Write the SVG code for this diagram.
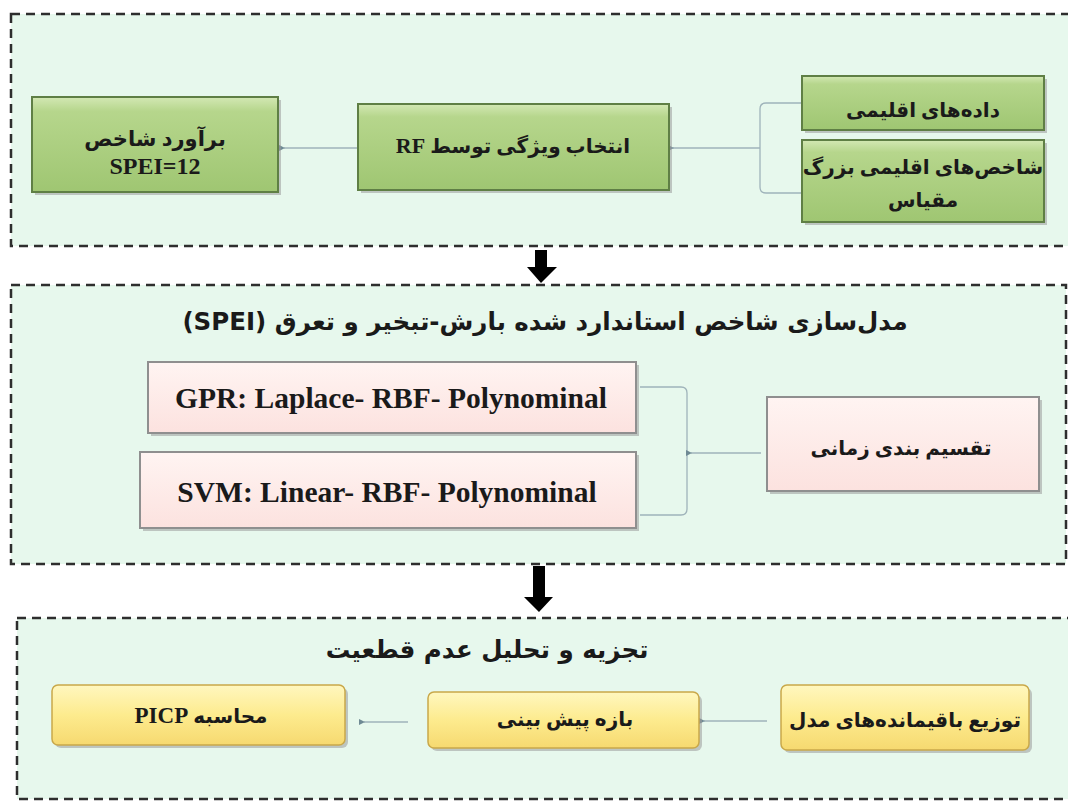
<svg xmlns="http://www.w3.org/2000/svg" width="1068" height="803" viewBox="0 0 1068 803">
<defs>
<linearGradient id="gGreen" x1="0" y1="0" x2="0" y2="1">
<stop offset="0" stop-color="#d3e8b4"/>
<stop offset="0.15" stop-color="#b6d68c"/>
<stop offset="1" stop-color="#9fc672"/>
</linearGradient>
<linearGradient id="gPink" x1="0" y1="0" x2="0" y2="1">
<stop offset="0" stop-color="#fff4f2"/>
<stop offset="1" stop-color="#fce2df"/>
</linearGradient>
<linearGradient id="gYellow" x1="0" y1="0" x2="0" y2="1">
<stop offset="0" stop-color="#fff7bf"/>
<stop offset="0.5" stop-color="#fdeb8e"/>
<stop offset="1" stop-color="#f6d970"/>
</linearGradient>
<marker id="dot" viewBox="0 0 6 6" refX="1" refY="3" markerWidth="5" markerHeight="5" orient="auto">
<path d="M6,0 L0,3 L6,6 z" fill="#6f8a94"/>
</marker>
<style>
.panel{fill:#e7f8ed;stroke:#2e2e2e;stroke-width:2.5;stroke-dasharray:9 6}
.green{fill:url(#gGreen);stroke:#5f7f45;stroke-width:2}
.pink{fill:url(#gPink);stroke:#8f8f8f;stroke-width:2}
.yellow{fill:url(#gYellow);stroke:#c9a84a;stroke-width:1.5}
.shadow{fill:#9a9a9a;opacity:0.55}
.conn{fill:none;stroke:#9fb3ba;stroke-width:1.3}
.fa{font-family:"Liberation Serif","DejaVu Sans",serif;font-weight:bold;fill:#1a1a1a;text-anchor:middle}
.lat{font-family:"Liberation Serif",serif;font-weight:bold;fill:#1a1a1a;text-anchor:middle}
.title{font-family:"DejaVu Sans",sans-serif;font-weight:bold;fill:#1a1a1a;text-anchor:middle}
.arrow{fill:#000}
</style>
</defs>
<rect width="1068" height="803" fill="#ffffff"/>

<g id="panel-top">
<rect class="panel" x="11" y="14" width="1070" height="232"/>
</g>
<g id="panel-middle">
<rect class="panel" x="11" y="285" width="1055" height="279"/>
</g>
<g id="panel-bottom">
<rect class="panel" x="17" y="618" width="1070" height="181"/>
</g>

<g id="connectors">
<line class="conn" x1="357" y1="148" x2="284" y2="148" marker-end="url(#dot)"/>
<path class="conn" d="M802,103 H766 Q760,103 760,109 V187 Q760,193 766,193 H802"/>
<line class="conn" x1="760" y1="148" x2="673" y2="148" marker-end="url(#dot)"/>
<path class="conn" d="M640,387 H681 Q687,387 687,393 V509 Q687,515 681,515 H640"/>
<line class="conn" x1="761" y1="453" x2="691" y2="453" marker-end="url(#dot)"/>
<line class="conn" x1="767" y1="721" x2="704" y2="721" marker-end="url(#dot)"/>
<line class="conn" x1="408" y1="722" x2="364" y2="722" marker-end="url(#dot)"/>
<path class="arrow" d="M535,250 H547 V267 H557 L541,283 L527,267 H535 Z"/>
<path class="arrow" d="M533,566 H545 V597 H553 L539,612 L524,597 H533 Z"/>
</g>

<g id="node-spei12">
<rect class="shadow" x="35" y="100" width="246" height="95"/>
<rect class="green" x="32" y="97" width="246" height="95"/>
<text class="fa" x="155" y="146" font-size="21" direction="rtl">برآورد شاخص</text>
<text class="lat" x="155" y="174" font-size="24">SPEI=12</text>
</g>

<g id="node-rf">
<rect class="shadow" x="361" y="107" width="311" height="86"/>
<rect class="green" x="358" y="104" width="311" height="86"/>
<text class="fa" x="513" y="153" font-size="20" direction="rtl">انتخاب ویژگی توسط <tspan font-size="22">RF</tspan></text>
</g>

<g id="node-climate-data">
<rect class="shadow" x="805" y="79" width="242" height="54"/>
<rect class="green" x="802" y="76" width="242" height="54"/>
<text class="fa" x="923" y="117" font-size="20" direction="rtl">داده‌های اقلیمی</text>
</g>

<g id="node-climate-indices">
<rect class="shadow" x="805" y="143" width="242" height="82"/>
<rect class="green" x="802" y="140" width="242" height="82"/>
<text class="fa" x="923" y="174" font-size="20" direction="rtl">شاخص‌های اقلیمی بزرگ</text>
<text class="fa" x="923" y="207" font-size="20" direction="rtl">مقیاس</text>
</g>

<g id="title-middle">
<text class="title" x="545" y="330" font-size="24.5" direction="rtl">مدل‌سازی شاخص استاندارد شده بارش-تبخیر و تعرق (SPEI)</text>
</g>

<g id="node-gpr">
<rect class="shadow" x="151" y="365" width="488" height="71"/>
<rect class="pink" x="148" y="362" width="488" height="71"/>
<text class="lat" x="391" y="408" font-size="29.5">GPR: Laplace- RBF- Polynominal</text>
</g>

<g id="node-svm">
<rect class="shadow" x="143" y="455" width="496" height="76"/>
<rect class="pink" x="140" y="452" width="496" height="76"/>
<text class="lat" x="387" y="502" font-size="29.5">SVM: Linear- RBF- Polynominal</text>
</g>

<g id="node-time-split">
<rect class="shadow" x="770" y="400" width="272" height="94"/>
<rect class="pink" x="767" y="397" width="272" height="94"/>
<text class="fa" x="901" y="455" font-size="20" direction="rtl">تقسیم بندی زمانی</text>
</g>

<g id="title-bottom">
<text class="title" x="487" y="658" font-size="24.5" direction="rtl">تجزیه و تحلیل عدم قطعیت</text>
</g>

<g id="node-picp">
<rect class="shadow" x="55" y="688" width="293" height="60" rx="6"/>
<rect class="yellow" x="52" y="685" width="293" height="60" rx="6"/>
<text class="fa" x="201" y="723" font-size="20" direction="rtl">محاسبه <tspan font-size="23">PICP</tspan></text>
</g>

<g id="node-interval">
<rect class="shadow" x="431" y="695" width="271" height="56" rx="6"/>
<rect class="yellow" x="428" y="692" width="271" height="56" rx="6"/>
<text class="fa" x="565" y="726" font-size="20" direction="rtl">بازه پیش بینی</text>
</g>

<g id="node-residuals">
<rect class="shadow" x="784" y="688" width="248" height="65" rx="6"/>
<rect class="yellow" x="781" y="685" width="248" height="65" rx="6"/>
<text class="fa" x="905" y="727" font-size="20" direction="rtl">توزیع باقیمانده‌های مدل</text>
</g>
</svg>
